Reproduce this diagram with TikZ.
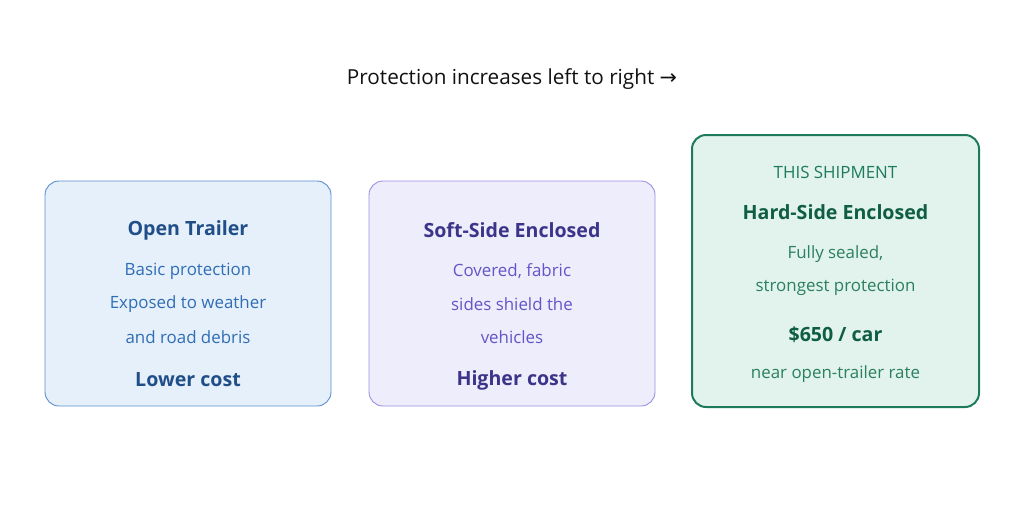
\documentclass[tikz,border=0pt]{standalone}
\usepackage{fontspec}
\setmainfont{Open Sans}
\newfontfamily\arrowfont{DejaVu Sans}
\definecolor{bluefill}{HTML}{E6F0FA}
\definecolor{blueline}{HTML}{5B8FD0}
\definecolor{bluetitle}{HTML}{1F4E89}
\definecolor{bluetext}{HTML}{2F6DB5}
\definecolor{purpfill}{HTML}{EEEDFC}
\definecolor{purpline}{HTML}{9B8FE0}
\definecolor{purptitle}{HTML}{3C3489}
\definecolor{purptext}{HTML}{6355C8}
\definecolor{greenfill}{HTML}{E1F3EC}
\definecolor{greenline}{HTML}{1D7A5A}
\definecolor{greentitle}{HTML}{0F5E44}
\definecolor{greentext}{HTML}{2A8060}
\definecolor{headtext}{HTML}{111111}
\begin{document}
\begin{tikzpicture}[x=1pt,y=-1pt,
  card/.style={draw, rounded corners=14pt, line width=0.9pt},
  ttl/.style={font=\fontsize{19.6}{23}\selectfont\bfseries, anchor=center, inner sep=0pt},
  body/.style={font=\fontsize{16.9}{20}\selectfont, anchor=center, inner sep=0pt}]
\useasboundingbox (0,0) rectangle (1024,512);
\fill[white] (0,0) rectangle (1024,512);
\node[font=\fontsize{20.7}{24}\selectfont, text=headtext, inner sep=0pt] (head) at (512,79) {Protection increases left to right {\arrowfont →}};
% box 1
\draw[card, fill=bluefill, draw=blueline] (45,181) rectangle (331,406);
\node[ttl, text=bluetitle] (t1) at (188,230) {Open Trailer};
\node[body, text=bluetext] (b1a) at (188,271) {Basic protection};
\node[body, text=bluetext] (b1b) at (188,304) {Exposed to weather};
\node[body, text=bluetext] (b1c) at (188,337) {and road debris};
\node[ttl, text=bluetitle] (c1) at (188,380) {Lower cost};
% box 2
\draw[card, fill=purpfill, draw=purpline] (369,181) rectangle (655,406);
\node[ttl, text=purptitle] (t2) at (512,230) {Soft-Side Enclosed};
\node[body, text=purptext] (b2a) at (512,271) {Covered, fabric};
\node[body, text=purptext] (b2b) at (512,304) {sides shield the};
\node[body, text=purptext] (b2c) at (512,337) {vehicles};
\node[ttl, text=purptitle] (c2) at (512,380) {Higher cost};
% box 3
\draw[card, fill=greenfill, draw=greenline, line width=2pt] (692,135) rectangle (979,407);
\node[body, text=greenline] (s3) at (835.5,172) {THIS SHIPMENT};
\node[ttl, text=greentitle] (t3) at (835.5,212) {Hard-Side Enclosed};
\node[body, text=greentext] (b3a) at (835.5,254) {Fully sealed,};
\node[body, text=greentext] (b3b) at (835.5,287) {strongest protection};
\node[ttl, text=greentitle] (p3) at (835.5,335) {\$650 / car};
\node[body, text=greentext] (r3) at (835.5,374) {near open-trailer rate};
\end{tikzpicture}
\end{document}
